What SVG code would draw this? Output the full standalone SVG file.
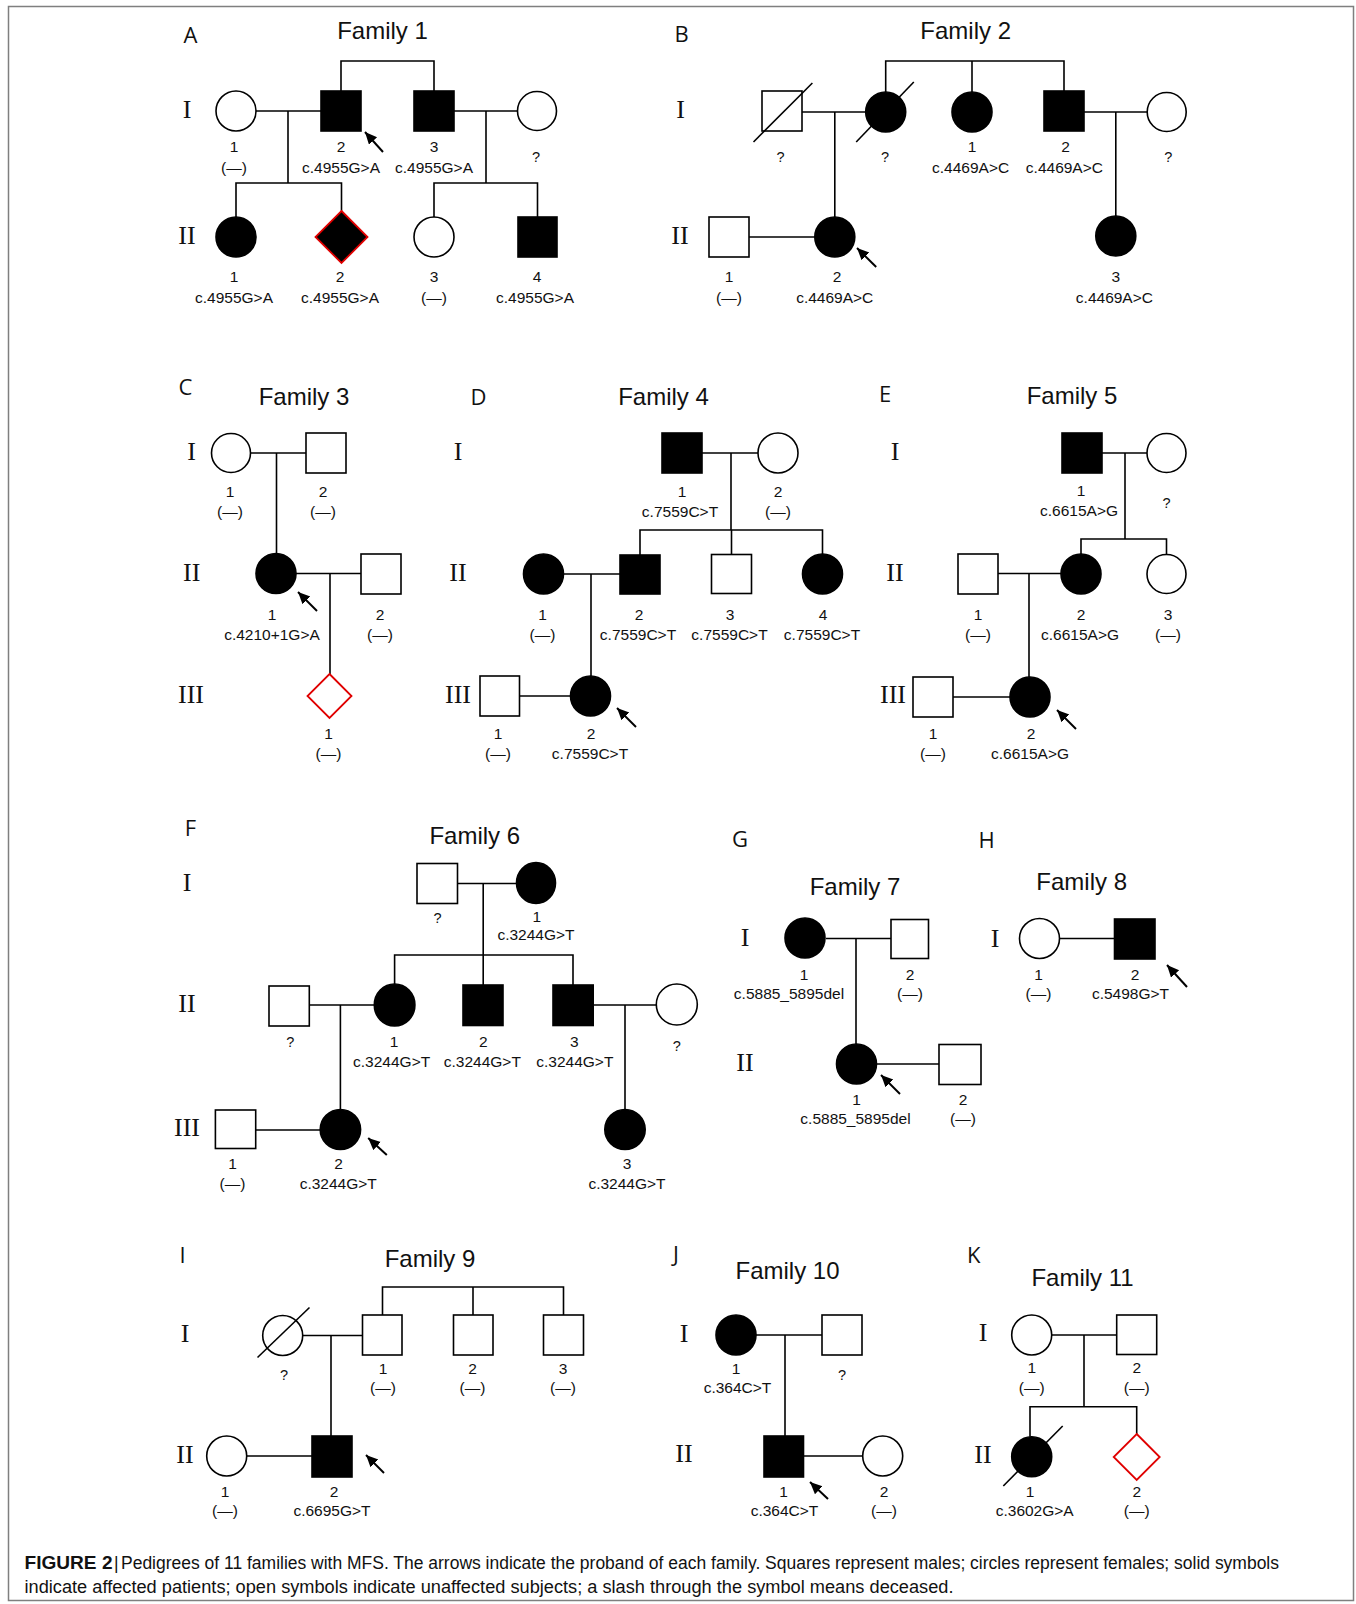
<svg xmlns="http://www.w3.org/2000/svg" width="1356" height="1604" viewBox="0 0 1356 1604">
<style>
.bg{fill:#fff}
.frame{fill:none;stroke:#7f7f7f;stroke-width:1.5}
.s{stroke:#000;stroke-width:1.6}
.a{fill:#000}
.u{fill:#fff}
.dia-a{fill:#000;stroke:#e00000;stroke-width:1.8}
.dia-u{fill:#fff;stroke:#e00000;stroke-width:1.8}
.sl{stroke:#000;stroke-width:1.6;fill:none}
.con path{fill:none;stroke:#000;stroke-width:1.6}
.arr{stroke:#000;stroke-width:2;fill:none}
text{font-family:"Liberation Sans",Arial,sans-serif;fill:#111}
.l{font-size:15.5px;text-anchor:middle}
.q{font-size:14.5px;text-anchor:middle}
.r{font-family:"Liberation Serif","Times New Roman",serif;font-size:26px;text-anchor:middle}
.t{font-size:24px;text-anchor:middle}
.p{font-family:"Open Sans","Liberation Sans",sans-serif;font-size:22px;text-anchor:middle}
.cap{font-size:17.5px}
</style>
<defs>
<marker id="ah" markerUnits="userSpaceOnUse" markerWidth="13" markerHeight="12" refX="12" refY="5.5" orient="auto">
<path d="M0,0 L12,5.5 L0,11 z" fill="#000"/>
</marker>
</defs>
<rect class="bg" x="0" y="0" width="1356" height="1604"/>
<rect class="frame" x="8.5" y="6.5" width="1345" height="1594"/>

<!-- panel letters and titles -->
<g id="labels">
<text class="p" x="190.5" y="43">A</text>
<text class="t" x="382.5" y="39">Family 1</text>
<text class="p" x="681.6" y="42">B</text>
<text class="t" x="965.7" y="39">Family 2</text>
<text class="p" x="185.5" y="395">C</text>
<text class="t" x="304" y="405">Family 3</text>
<text class="p" x="478.5" y="405">D</text>
<text class="t" x="663.5" y="405">Family 4</text>
<text class="p" x="885" y="402">E</text>
<text class="t" x="1072" y="404">Family 5</text>
<text class="p" x="190.4" y="836">F</text>
<text class="t" x="474.8" y="844">Family 6</text>
<text class="p" x="740" y="847">G</text>
<text class="t" x="855" y="894.5">Family 7</text>
<text class="p" x="986.5" y="848">H</text>
<text class="t" x="1081.7" y="890">Family 8</text>
<text class="p" x="182.5" y="1263">I</text>
<text class="t" x="430" y="1267">Family 9</text>
<text class="p" x="676" y="1262">J</text>
<text class="t" x="787.5" y="1279">Family 10</text>
<text class="p" x="973.7" y="1263">K</text>
<text class="t" x="1082.5" y="1286">Family 11</text>
</g>

<!-- generation numerals -->
<g id="generations">
<text class="r" x="187" y="118">I</text>
<text class="r" x="187" y="244">II</text>
<text class="r" x="680.5" y="118">I</text>
<text class="r" x="680" y="244">II</text>
<text class="r" x="191.7" y="460">I</text>
<text class="r" x="191.7" y="581">II</text>
<text class="r" x="191" y="703">III</text>
<text class="r" x="458" y="459.5">I</text>
<text class="r" x="458" y="581">II</text>
<text class="r" x="458" y="703">III</text>
<text class="r" x="895" y="460">I</text>
<text class="r" x="895" y="581">II</text>
<text class="r" x="893" y="703">III</text>
<text class="r" x="187" y="891">I</text>
<text class="r" x="187" y="1012">II</text>
<text class="r" x="187" y="1136">III</text>
<text class="r" x="745" y="946">I</text>
<text class="r" x="745" y="1071">II</text>
<text class="r" x="995" y="947">I</text>
<text class="r" x="185" y="1342">I</text>
<text class="r" x="185" y="1463">II</text>
<text class="r" x="684" y="1341.5">I</text>
<text class="r" x="684" y="1462">II</text>
<text class="r" x="983" y="1341">I</text>
<text class="r" x="983" y="1463">II</text>
</g>

<!-- connectors -->
<g id="connectors" class="con">
<!-- F1 -->
<path d="M341,91 V61 H434 V91"/>
<path d="M256,111 H321"/>
<path d="M288,111 V183"/>
<path d="M236,217 V183 H341.5 V211"/>
<path d="M454,111 H517.5"/>
<path d="M486,111 V183"/>
<path d="M434,217 V183 H537.5 V217"/>
<!-- F2 -->
<path d="M885.7,92 V61 H1064 V91"/>
<path d="M972,61 V92"/>
<path d="M802,112 H865.7"/>
<path d="M834.8,112 V217"/>
<path d="M1084,112 H1147"/>
<path d="M1115.8,112 V216"/>
<path d="M749,237 H814.8"/>
<!-- F3 -->
<path d="M250.5,453 H306"/>
<path d="M276.5,453 V553.5"/>
<path d="M296,573.5 H361"/>
<path d="M330,573.5 V674"/>
<!-- F4 -->
<path d="M702,453 H758"/>
<path d="M731,453 V530"/>
<path d="M640,555 V530 H822.5 V554"/>
<path d="M731.5,530 V554.5"/>
<path d="M563.5,574 H620"/>
<path d="M591,574 V676"/>
<path d="M519.5,696 H570.5"/>
<!-- F5 -->
<path d="M1102,453 H1147"/>
<path d="M1125,453 V539"/>
<path d="M1081,554 V539 H1166.5 V554.5"/>
<path d="M998,573.5 H1061"/>
<path d="M1029,573.5 V677"/>
<path d="M953,697 H1010"/>
<!-- F6 -->
<path d="M457.5,883.5 H516.5"/>
<path d="M483.2,883.5 V955"/>
<path d="M394.6,984 V955 H573 V985"/>
<path d="M483.2,955 V985"/>
<path d="M309.3,1005 H374.3"/>
<path d="M340.4,1005 V1109.5"/>
<path d="M593.2,1005 H656.3"/>
<path d="M625,1005 V1109.5"/>
<path d="M255.7,1130 H320.2"/>
<!-- F7 -->
<path d="M826,938.5 H891"/>
<path d="M856,938.5 V1044"/>
<path d="M876.5,1064 H939"/>
<!-- F8 -->
<path d="M1059.5,938.5 H1114.5"/>
<!-- F9 -->
<path d="M382.5,1315 V1287 H563.5 V1315"/>
<path d="M473,1287 V1315"/>
<path d="M302.7,1335.5 H362.5"/>
<path d="M331,1335.5 V1436"/>
<path d="M246.7,1456 H312"/>
<!-- F10 -->
<path d="M756,1335 H822"/>
<path d="M785,1335 V1436"/>
<path d="M803.5,1456 H862.7"/>
<!-- F11 -->
<path d="M1051.7,1335 H1116.7"/>
<path d="M1084,1335 V1406.7"/>
<path d="M1030,1436.7 V1406.7 H1136.7 V1434"/>
</g>

<!-- Family 1 -->
<g id="f1-I1"><circle class="s u" cx="236" cy="111" r="20"/><text class="l" x="234" y="152">1</text><text class="l" x="234" y="173">(—)</text></g>
<g id="f1-I2"><rect class="s a" x="321" y="91" width="40" height="40"/><text class="l" x="341" y="152">2</text><text class="l" x="341" y="173">c.4955G&gt;A</text><line class="arr" x1="383" y1="152" x2="365" y2="132" marker-end="url(#ah)"/></g>
<g id="f1-I3"><rect class="s a" x="414" y="91" width="40" height="40"/><text class="l" x="434" y="152">3</text><text class="l" x="434" y="173">c.4955G&gt;A</text></g>
<g id="f1-I4"><circle class="s u" cx="537" cy="111" r="19.5"/><text class="q" x="536" y="162">?</text></g>
<g id="f1-II1"><circle class="s a" cx="236" cy="237" r="20"/><text class="l" x="234" y="282">1</text><text class="l" x="234" y="303">c.4955G&gt;A</text></g>
<g id="f1-II2"><path class="dia-a" d="M341.5,211 L367.5,237 L341.5,263 L315.5,237 Z"/><text class="l" x="340" y="282">2</text><text class="l" x="340" y="303">c.4955G&gt;A</text></g>
<g id="f1-II3"><circle class="s u" cx="434" cy="237" r="20"/><text class="l" x="434" y="282">3</text><text class="l" x="434" y="303">(—)</text></g>
<g id="f1-II4"><rect class="s a" x="518" y="217" width="39" height="40"/><text class="l" x="537" y="282">4</text><text class="l" x="535" y="303">c.4955G&gt;A</text></g>

<!-- Family 2 -->
<g id="f2-Ia"><rect class="s u" x="762" y="91" width="40" height="40"/><line class="sl" x1="753.5" y1="142" x2="812.4" y2="83"/><text class="q" x="780.5" y="162">?</text></g>
<g id="f2-Ib"><circle class="s a" cx="885.7" cy="112" r="20"/><line class="sl" x1="856.2" y1="142" x2="913.8" y2="82"/><text class="q" x="885" y="162">?</text></g>
<g id="f2-I1"><circle class="s a" cx="972" cy="112" r="20"/><text class="l" x="972" y="152">1</text><text class="l" x="970.6" y="173">c.4469A&gt;C</text></g>
<g id="f2-I2"><rect class="s a" x="1044" y="91" width="40" height="40"/><text class="l" x="1065.6" y="152">2</text><text class="l" x="1064.4" y="173">c.4469A&gt;C</text></g>
<g id="f2-Ic"><circle class="s u" cx="1166.7" cy="112" r="19.5"/><text class="q" x="1168.4" y="162">?</text></g>
<g id="f2-II1"><rect class="s u" x="709" y="217" width="40" height="40"/><text class="l" x="729" y="282">1</text><text class="l" x="729" y="303">(—)</text></g>
<g id="f2-II2"><circle class="s a" cx="834.8" cy="237" r="20"/><text class="l" x="837" y="282">2</text><text class="l" x="834.7" y="303">c.4469A&gt;C</text><line class="arr" x1="876.2" y1="267" x2="857" y2="248" marker-end="url(#ah)"/></g>
<g id="f2-II3"><circle class="s a" cx="1115.8" cy="236" r="20"/><text class="l" x="1115.8" y="282">3</text><text class="l" x="1114.4" y="303">c.4469A&gt;C</text></g>

<!-- Family 3 -->
<g id="f3-I1"><circle class="s u" cx="231" cy="453" r="19.5"/><text class="l" x="230" y="497">1</text><text class="l" x="230" y="517">(—)</text></g>
<g id="f3-I2"><rect class="s u" x="306" y="433" width="40" height="40"/><text class="l" x="323" y="497">2</text><text class="l" x="323" y="517">(—)</text></g>
<g id="f3-II1"><circle class="s a" cx="276" cy="573.5" r="20"/><text class="l" x="272" y="620">1</text><text class="l" x="272" y="639.5">c.4210+1G&gt;A</text><line class="arr" x1="317" y1="611" x2="298" y2="592" marker-end="url(#ah)"/></g>
<g id="f3-II2"><rect class="s u" x="361" y="554" width="40" height="40"/><text class="l" x="380" y="620">2</text><text class="l" x="380" y="639.5">(—)</text></g>
<g id="f3-III1"><path class="dia-u" d="M329.5,674 L351.5,696 L329.5,718 L307.5,696 Z"/><text class="l" x="328.5" y="738.5">1</text><text class="l" x="328.5" y="758.5">(—)</text></g>

<!-- Family 4 -->
<g id="f4-I1"><rect class="s a" x="662" y="433" width="40" height="40"/><text class="l" x="682" y="497">1</text><text class="l" x="680" y="517">c.7559C&gt;T</text></g>
<g id="f4-I2"><circle class="s u" cx="778" cy="453" r="20"/><text class="l" x="778" y="497">2</text><text class="l" x="778" y="517">(—)</text></g>
<g id="f4-II1"><circle class="s a" cx="543.5" cy="574" r="20"/><text class="l" x="542.5" y="620">1</text><text class="l" x="542.5" y="639.5">(—)</text></g>
<g id="f4-II2"><rect class="s a" x="620" y="555" width="40" height="39"/><text class="l" x="639" y="620">2</text><text class="l" x="638" y="639.5">c.7559C&gt;T</text></g>
<g id="f4-II3"><rect class="s u" x="711.5" y="554.5" width="40" height="39"/><text class="l" x="730" y="620">3</text><text class="l" x="729.5" y="639.5">c.7559C&gt;T</text></g>
<g id="f4-II4"><circle class="s a" cx="822.5" cy="574" r="20"/><text class="l" x="823" y="620">4</text><text class="l" x="822" y="639.5">c.7559C&gt;T</text></g>
<g id="f4-III1"><rect class="s u" x="480" y="676" width="39.5" height="40"/><text class="l" x="498" y="738.5">1</text><text class="l" x="498" y="758.5">(—)</text></g>
<g id="f4-III2"><circle class="s a" cx="590.5" cy="696" r="20"/><text class="l" x="591" y="738.5">2</text><text class="l" x="590" y="758.5">c.7559C&gt;T</text><line class="arr" x1="636" y1="727" x2="617" y2="708" marker-end="url(#ah)"/></g>

<!-- Family 5 -->
<g id="f5-I1"><rect class="s a" x="1062" y="433" width="40" height="40"/><text class="l" x="1081" y="496">1</text><text class="l" x="1079" y="516">c.6615A&gt;G</text></g>
<g id="f5-I2"><circle class="s u" cx="1166.5" cy="453" r="19.5"/><text class="q" x="1166.5" y="508">?</text></g>
<g id="f5-II1"><rect class="s u" x="958" y="554" width="40" height="40"/><text class="l" x="978" y="620">1</text><text class="l" x="978" y="639.5">(—)</text></g>
<g id="f5-II2"><circle class="s a" cx="1081" cy="574" r="20"/><text class="l" x="1081" y="620">2</text><text class="l" x="1080" y="639.5">c.6615A&gt;G</text></g>
<g id="f5-II3"><circle class="s u" cx="1166.5" cy="574" r="19.5"/><text class="l" x="1168" y="620">3</text><text class="l" x="1168" y="639.5">(—)</text></g>
<g id="f5-III1"><rect class="s u" x="913" y="677" width="40" height="40"/><text class="l" x="933" y="738.5">1</text><text class="l" x="933" y="758.5">(—)</text></g>
<g id="f5-III2"><circle class="s a" cx="1030" cy="697" r="20"/><text class="l" x="1031" y="738.5">2</text><text class="l" x="1030" y="758.5">c.6615A&gt;G</text><line class="arr" x1="1076" y1="729" x2="1057" y2="710" marker-end="url(#ah)"/></g>

<!-- Family 6 -->
<g id="f6-Ia"><rect class="s u" x="417" y="863.5" width="40.5" height="40"/><text class="q" x="437.5" y="923">?</text></g>
<g id="f6-I1"><ellipse class="s a" cx="536" cy="883" rx="19.5" ry="20.5"/><text class="l" x="536.8" y="922">1</text><text class="l" x="536" y="940">c.3244G&gt;T</text></g>
<g id="f6-IIa"><rect class="s u" x="269" y="986" width="40.3" height="40"/><text class="q" x="290.4" y="1047">?</text></g>
<g id="f6-II1"><ellipse class="s a" cx="394.6" cy="1005" rx="20.3" ry="21"/><text class="l" x="394" y="1047">1</text><text class="l" x="391.6" y="1067">c.3244G&gt;T</text></g>
<g id="f6-II2"><rect class="s a" x="463" y="985" width="40" height="40.5"/><text class="l" x="483.2" y="1047">2</text><text class="l" x="482.3" y="1067">c.3244G&gt;T</text></g>
<g id="f6-II3"><rect class="s a" x="553" y="985" width="40.2" height="40.5"/><text class="l" x="574.3" y="1047">3</text><text class="l" x="574.8" y="1067">c.3244G&gt;T</text></g>
<g id="f6-IIb"><ellipse class="s u" cx="676.8" cy="1004.5" rx="20.5" ry="20.5"/><text class="q" x="676.8" y="1051">?</text></g>
<g id="f6-III1"><rect class="s u" x="215.4" y="1110" width="40.3" height="38.5"/><text class="l" x="232.5" y="1168.5">1</text><text class="l" x="232.5" y="1188.5">(—)</text></g>
<g id="f6-III2"><ellipse class="s a" cx="340.4" cy="1129.5" rx="20.2" ry="20"/><text class="l" x="338.6" y="1168.5">2</text><text class="l" x="338.2" y="1188.5">c.3244G&gt;T</text><line class="arr" x1="386.8" y1="1155" x2="368.2" y2="1138" marker-end="url(#ah)"/></g>
<g id="f6-III3"><ellipse class="s a" cx="625" cy="1129.5" rx="20.2" ry="20"/><text class="l" x="627.1" y="1168.5">3</text><text class="l" x="627" y="1188.5">c.3244G&gt;T</text></g>

<!-- Family 7 -->
<g id="f7-I1"><circle class="s a" cx="805" cy="938" r="20"/><text class="l" x="804" y="980">1</text><text class="l" x="789" y="998.5">c.5885_5895del</text></g>
<g id="f7-I2"><rect class="s u" x="891" y="919.5" width="37.5" height="39"/><text class="l" x="910" y="980">2</text><text class="l" x="910" y="998.5">(—)</text></g>
<g id="f7-II1"><circle class="s a" cx="856.5" cy="1064" r="20"/><text class="l" x="856.5" y="1105">1</text><text class="l" x="855.5" y="1123.5">c.5885_5895del</text><line class="arr" x1="900" y1="1094" x2="881" y2="1075" marker-end="url(#ah)"/></g>
<g id="f7-II2"><rect class="s u" x="939" y="1044.5" width="42" height="40"/><text class="l" x="963" y="1105">2</text><text class="l" x="963" y="1123.5">(—)</text></g>

<!-- Family 8 -->
<g id="f8-I1"><circle class="s u" cx="1039.5" cy="938.5" r="20"/><text class="l" x="1038.5" y="980">1</text><text class="l" x="1038.5" y="998.5">(—)</text></g>
<g id="f8-I2"><rect class="s a" x="1114.5" y="919" width="40.5" height="40"/><text class="l" x="1135" y="980">2</text><text class="l" x="1130.5" y="998.5">c.5498G&gt;T</text><line class="arr" x1="1187" y1="987" x2="1167" y2="965" marker-end="url(#ah)"/></g>

<!-- Family 9 -->
<g id="f9-Ia"><circle class="s u" cx="282.7" cy="1335.5" r="20"/><line class="sl" x1="257.5" y1="1357.5" x2="309.5" y2="1307.5"/><text class="q" x="284" y="1379.5">?</text></g>
<g id="f9-I1"><rect class="s u" x="362.5" y="1315" width="39.5" height="40"/><text class="l" x="383" y="1373.5">1</text><text class="l" x="383" y="1393">(—)</text></g>
<g id="f9-I2"><rect class="s u" x="453.5" y="1315" width="39.5" height="40"/><text class="l" x="472.5" y="1373.5">2</text><text class="l" x="472.5" y="1393">(—)</text></g>
<g id="f9-I3"><rect class="s u" x="543.5" y="1315" width="40" height="40"/><text class="l" x="563" y="1373.5">3</text><text class="l" x="563" y="1393">(—)</text></g>
<g id="f9-II1"><circle class="s u" cx="226.7" cy="1456" r="20"/><text class="l" x="225" y="1497">1</text><text class="l" x="225" y="1516">(—)</text></g>
<g id="f9-II2"><rect class="s a" x="312" y="1436" width="40" height="41"/><text class="l" x="334" y="1497">2</text><text class="l" x="332" y="1516">c.6695G&gt;T</text><line class="arr" x1="384" y1="1473" x2="366" y2="1455" marker-end="url(#ah)"/></g>

<!-- Family 10 -->
<g id="f10-I1"><circle class="s a" cx="736" cy="1335" r="20"/><text class="l" x="736" y="1373.5">1</text><text class="l" x="737.5" y="1393">c.364C&gt;T</text></g>
<g id="f10-I2"><rect class="s u" x="822" y="1315" width="40" height="40"/><text class="q" x="842" y="1379.5">?</text></g>
<g id="f10-II1"><rect class="s a" x="764" y="1436" width="39.5" height="41"/><text class="l" x="783.5" y="1497">1</text><text class="l" x="784.5" y="1516">c.364C&gt;T</text><line class="arr" x1="828" y1="1499" x2="810" y2="1482" marker-end="url(#ah)"/></g>
<g id="f10-II2"><circle class="s u" cx="882.7" cy="1456" r="20"/><text class="l" x="884" y="1497">2</text><text class="l" x="884" y="1516">(—)</text></g>

<!-- Family 11 -->
<g id="f11-I1"><circle class="s u" cx="1031.7" cy="1335" r="20"/><text class="l" x="1031.7" y="1373">1</text><text class="l" x="1031.7" y="1393">(—)</text></g>
<g id="f11-I2"><rect class="s u" x="1116.7" y="1315" width="40" height="39.5"/><text class="l" x="1136.7" y="1373">2</text><text class="l" x="1136.7" y="1393">(—)</text></g>
<g id="f11-II1"><circle class="s a" cx="1031.7" cy="1456.7" r="20"/><line class="sl" x1="1003.3" y1="1486" x2="1062.7" y2="1426"/><text class="l" x="1030" y="1497">1</text><text class="l" x="1034.7" y="1516">c.3602G&gt;A</text></g>
<g id="f11-II2"><path class="dia-u" d="M1136.7,1434 L1159.7,1457 L1136.7,1480 L1113.7,1457 Z"/><text class="l" x="1136.7" y="1497">2</text><text class="l" x="1136.7" y="1516">(—)</text></g>

<!-- caption -->
<g id="caption">
<text class="cap" x="24.5" y="1569" font-weight="bold" textLength="88" lengthAdjust="spacingAndGlyphs">FIGURE 2</text>
<text class="cap" x="114" y="1569">|</text>
<text class="cap" x="121" y="1569" textLength="1158" lengthAdjust="spacingAndGlyphs">Pedigrees of 11 families with MFS. The arrows indicate the proband of each family. Squares represent males; circles represent females; solid symbols</text>
<text class="cap" x="24.5" y="1593" textLength="929" lengthAdjust="spacingAndGlyphs">indicate affected patients; open symbols indicate unaffected subjects; a slash through the symbol means deceased.</text>
</g>
</svg>
